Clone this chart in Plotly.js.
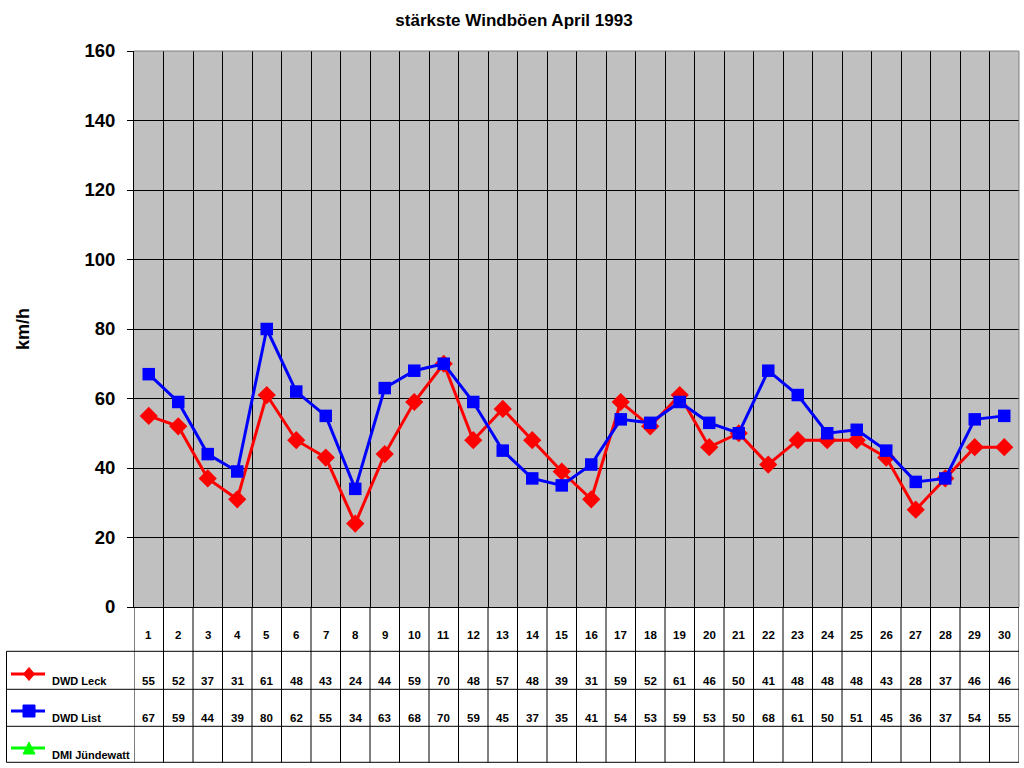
<!DOCTYPE html>
<html><head><meta charset="utf-8">
<script src="https://cdn.plot.ly/plotly-3.0.1.min.js"></script>
<style>html,body{margin:0;padding:0;background:#fff}</style>
</head><body><div id="chart" style="width:1024px;height:768px"></div>
<script>
// ---- data ----
const days = [1,2,3,4,5,6,7,8,9,10,11,12,13,14,15,16,17,18,19,20,21,22,23,24,25,26,27,28,29,30];
const leck = [55,52,37,31,61,48,43,24,44,59,70,48,57,48,39,31,59,52,61,46,50,41,48,48,48,43,28,37,46,46];
const list = [67,59,44,39,80,62,55,34,63,68,70,59,45,37,35,41,54,53,59,53,50,68,61,50,51,45,36,37,54,55];
const juendewatt = [];
const seriesNames = ['DWD Leck', 'DWD List', 'DMI Jündewatt'];
const titleText = 'stärkste Windböen April 1993';
const yTitleText = 'km/h';

// ---- geometry helpers (pixel -> paper) ----
const L = 134, R = 1019, T = 51, B = 607;
const pw = R - L, ph = B - T;
const px = X => (X - L) / pw;
const py = Y => (B - Y) / ph;

const FONT = 'Liberation Sans, Arial, sans-serif';
const colors = ['#FF0000', '#0000FF', '#00FF00'];
const symbols = ['diamond', 'square', 'triangle-up'];

const traces = [
  {x: days, y: leck, name: seriesNames[0], type: 'scatter', mode: 'lines+markers',
   line: {color: colors[0], width: 3}, marker: {symbol: symbols[0], size: 14, color: colors[0]}},
  {x: days, y: list, name: seriesNames[1], type: 'scatter', mode: 'lines+markers',
   line: {color: colors[1], width: 3}, marker: {symbol: symbols[1], size: 12.5, color: colors[1]}},
  {x: days.slice(0, juendewatt.length), y: juendewatt, name: seriesNames[2], type: 'scatter', mode: 'lines+markers',
   line: {color: colors[2], width: 3}, marker: {symbol: symbols[2], size: 12, color: colors[2]}}
];

const shapes = [];
const annotations = [];
const black = '#000000';

// plot area top/right border (grey)
shapes.push({type: 'line', xref: 'paper', yref: 'paper', x0: 0, x1: 1, y0: 1, y1: 1, line: {color: '#808080', width: 1}});
shapes.push({type: 'line', xref: 'paper', yref: 'paper', x0: 1, x1: 1, y0: 0, y1: 1, line: {color: '#808080', width: 1}});

// data table
const rowLines = [651.3, 689.3, 726.3, 762.3];
const tableBottom = rowLines[rowLines.length - 1];
const tableLeft = 6.5;
const boundaries = [days[0] - 0.5].concat(days.map(d => d + 0.5));
boundaries.forEach(b => {
  shapes.push({type: 'line', xref: 'x', yref: 'paper', x0: b, x1: b, y0: 0, y1: py(tableBottom), line: {color: black, width: 1}});
});
rowLines.forEach(Y => {
  shapes.push({type: 'line', xref: 'paper', yref: 'paper', x0: px(tableLeft), x1: 1, y0: py(Y), y1: py(Y), line: {color: black, width: 1}});
});
shapes.push({type: 'line', xref: 'paper', yref: 'paper', x0: px(tableLeft), x1: px(tableLeft), y0: py(rowLines[0]), y1: py(tableBottom), line: {color: black, width: 1}});

const cellFont = {family: FONT, size: 11.5, color: black, weight: 'bold'};
const legendFont = {family: FONT, size: 11, color: black, weight: 'bold'};
days.forEach((d, i) => {
  annotations.push({x: d, xref: 'x', y: py(635), yref: 'paper', text: String(d), showarrow: false, font: cellFont, xanchor: 'center', yanchor: 'middle'});
  if (i < leck.length) annotations.push({x: d, xref: 'x', y: py(680.5), yref: 'paper', text: String(leck[i]), showarrow: false, font: cellFont, xanchor: 'center', yanchor: 'middle'});
  if (i < list.length) annotations.push({x: d, xref: 'x', y: py(717.5), yref: 'paper', text: String(list[i]), showarrow: false, font: cellFont, xanchor: 'center', yanchor: 'middle'});
  if (i < juendewatt.length) annotations.push({x: d, xref: 'x', y: py(754.5), yref: 'paper', text: String(juendewatt[i]), showarrow: false, font: cellFont, xanchor: 'center', yanchor: 'middle'});
});

// legend keys inside the table
const legendRows = [{line: 674, text: 681}, {line: 711, text: 718}, {line: 748, text: 755}];
legendRows.forEach((r, i) => {
  shapes.push({type: 'line', xref: 'paper', yref: 'paper', x0: px(11), x1: px(45), y0: py(r.line), y1: py(r.line), line: {color: colors[i], width: 3}});
  const cx = 29, cy = r.line;
  let path;
  if (i === 0) {
    path = `M ${px(cx)} ${py(cy - 6.5)} L ${px(cx + 5.5)} ${py(cy)} L ${px(cx)} ${py(cy + 6.5)} L ${px(cx - 5.5)} ${py(cy)} Z`;
  } else if (i === 1) {
    path = `M ${px(cx - 6)} ${py(cy - 6)} L ${px(cx + 6)} ${py(cy - 6)} L ${px(cx + 6)} ${py(cy + 6)} L ${px(cx - 6)} ${py(cy + 6)} Z`;
  } else {
    path = `M ${px(cx)} ${py(cy - 6)} L ${px(cx + 6)} ${py(cy + 6)} L ${px(cx - 6)} ${py(cy + 6)} Z`;
  }
  shapes.push({type: 'path', xref: 'paper', yref: 'paper', path: path, fillcolor: colors[i], line: {color: colors[i], width: 1}});
  annotations.push({x: px(50), xref: 'paper', y: py(r.text), yref: 'paper', text: seriesNames[i], showarrow: false,
    font: legendFont, xanchor: 'left', yanchor: 'middle'});
});

const layout = {
  width: 1024, height: 768,
  margin: {l: L, r: 1024 - R, t: T, b: 768 - B, pad: 0},
  paper_bgcolor: '#FFFFFF', plot_bgcolor: '#C0C0C0',
  showlegend: false,
  font: {family: FONT, color: black},
  title: {text: titleText, x: 514 / 1024, xref: 'container', xanchor: 'center', y: 1 - 20 / 768, yref: 'container', yanchor: 'middle',
          font: {family: FONT, size: 17, color: black, weight: 'bold'}},
  xaxis: {range: [0.5, 30.5], tickmode: 'array', tickvals: boundaries, showticklabels: false, ticks: '',
          showgrid: true, gridcolor: black, gridwidth: 1, zeroline: false, showline: true, linecolor: black, linewidth: 1,
          fixedrange: true},
  yaxis: {range: [0, 160], tickmode: 'linear', tick0: 0, dtick: 20, ticks: 'outside', ticklen: 6, tickcolor: black, tickwidth: 1,
          ticklabelstandoff: 8,
          tickfont: {family: FONT, size: 18.5, color: black, weight: 'bold'},
          showgrid: true, gridcolor: black, gridwidth: 1, zeroline: false, showline: true, linecolor: black, linewidth: 1,
          automargin: false, fixedrange: true,
          title: {text: yTitleText, standoff: 50, font: {family: FONT, size: 18, color: black, weight: 'bold'}}},
  shapes: shapes,
  annotations: annotations,
  hovermode: false
};

Plotly.newPlot('chart', traces, layout, {staticPlot: true, displayModeBar: false});
</script>
</body></html>
